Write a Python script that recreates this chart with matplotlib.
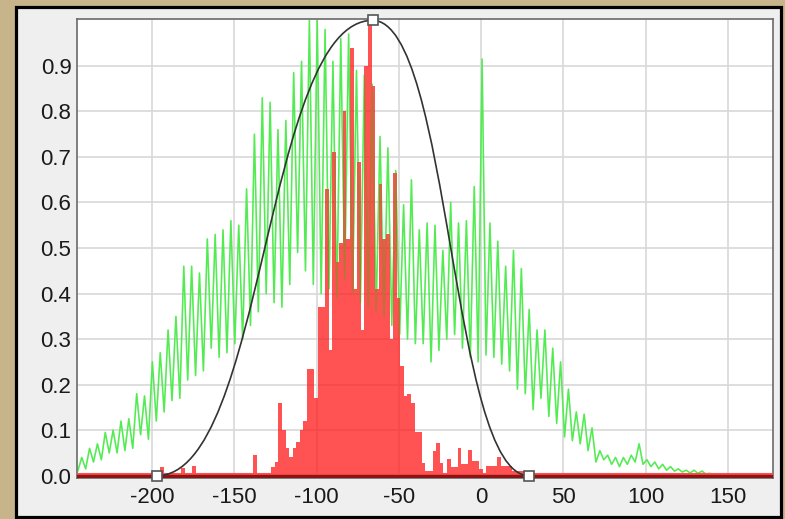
import numpy as np
import matplotlib.pyplot as plt
from matplotlib.patches import Rectangle, PathPatch
from matplotlib.path import Path

plt.rcParams['font.family'] = ['Liberation Sans', 'DejaVu Sans']
plt.rcParams['axes.unicode_minus'] = False

# green trace: alternating peak / trough values, sampled every half period
green_start = -247.5
green_step = 4.77
green_peaks = [0.02, 0.04, 0.06, 0.07, 0.095, 0.10, 0.12, 0.125, 0.18, 0.175,
               0.25, 0.27, 0.32, 0.35, 0.46, 0.46, 0.445, 0.52, 0.53, 0.54,
               0.56, 0.55, 0.63, 0.75, 0.83, 0.82, 0.76, 0.78, 0.885, 0.91,
               1.0, 1.0, 0.98, 0.91, 0.96, 0.97, 0.89, 0.88, 0.86, 0.745,
               0.72, 0.67, 0.595, 0.65, 0.54, 0.555, 0.55, 0.495, 0.60, 0.555,
               0.56, 0.635, 0.915, 0.555, 0.515, 0.46, 0.495, 0.455, 0.365, 0.32,
               0.32, 0.28, 0.25, 0.19, 0.14, 0.135, 0.105, 0.055, 0.045, 0.04,
               0.04, 0.045, 0.07, 0.035, 0.03, 0.025, 0.02, 0.015, 0.012, 0.012,
               0.01, 0.005, 0.003, 0.003, 0.003, 0.003, 0.003, 0.003, 0.003, 0.003]
green_troughs = [0.01, 0.015, 0.03, 0.035, 0.05, 0.05, 0.055, 0.06, 0.09, 0.08,
                 0.12, 0.14, 0.165, 0.17, 0.21, 0.22, 0.23, 0.28, 0.26, 0.27,
                 0.29, 0.30, 0.33, 0.36, 0.40, 0.38, 0.37, 0.42, 0.49, 0.45,
                 0.42, 0.40, 0.41, 0.39, 0.43, 0.40, 0.38, 0.37, 0.36, 0.35,
                 0.33, 0.31, 0.30, 0.29, 0.29, 0.25, 0.275, 0.30, 0.31, 0.28,
                 0.26, 0.25, 0.265, 0.26, 0.245, 0.23, 0.19, 0.18, 0.145, 0.17,
                 0.13, 0.115, 0.085, 0.077, 0.07, 0.055, 0.03, 0.035, 0.025, 0.02,
                 0.025, 0.03, 0.025, 0.02, 0.015, 0.012, 0.01, 0.008, 0.006, 0.005,
                 0.004, 0.003, 0.002, 0.002, 0.002, 0.002, 0.002, 0.002, 0.002, 0.002]

# red histogram
bin_start = -196.3
bin_width = 2.18
red_heights = [0, 0.02, 0, 0, 0, 0, 0, 0.017, 0, 0,
               0.022, 0, 0, 0, 0, 0, 0, 0, 0, 0,
               0, 0, 0, 0, 0, 0,
               0, 0.045, 0, 0, 0, 0, 0.02, 0.03, 0.16, 0.10,
               0.06, 0.04, 0.06, 0.075, 0.10, 0.12, 0.235, 0.235, 0.17, 0.37,
               0.37, 0.63, 0.275, 0.71, 0.47, 0.51, 0.80, 0.52, 0.94, 0.41,
               0.69, 0.32, 0.90, 1.0, 0.855, 0.41, 0.64, 0.52, 0.53, 0.30,
               0.665, 0.39, 0.24, 0.175, 0.18, 0.16, 0.095, 0.095, 0.027, 0.01,
               0.01, 0.055, 0.072, 0.027, 0.0, 0.037, 0.02, 0.02, 0.06, 0.025,
               0.025, 0.057, 0.033, 0.033, 0.015, 0.0, 0.022, 0.022, 0.022, 0.04,
               0.022, 0.022, 0.022, 0.01, 0.01, 0.01, 0.01, 0.005]

# curve handles (x, y)
handle_x = [-197, -66, 29]
handle_y = [0.0, 1.0, 0.0]

x_ticks = [-200, -150, -100, -50, 0, 50, 100, 150]
y_ticks = [0.0, 0.1, 0.2, 0.3, 0.4, 0.5, 0.6, 0.7, 0.8, 0.9]

fig = plt.figure(figsize=(7.85, 5.19), dpi=100, facecolor='#c8b48b')
W, H = 785, 519
frame = fig.add_axes([0, 0, 1, 1], zorder=-10)
frame.set_xlim(0, W)
frame.set_ylim(H, 0)
frame.axis('off')
frame.add_patch(Rectangle((15.5, 6.5), 765, 510, facecolor='#efefef',
                          edgecolor='black', linewidth=2.3))

ax = fig.add_axes([77 / W, 1 - 477.5 / H, 696 / W, 458.5 / H])
ax.set_facecolor('white')

gx = green_start + green_step / 2 * np.arange(2 * len(green_peaks))
gy = np.column_stack((green_peaks, green_troughs)).ravel()
ax.plot(gx, gy, color='#52ec52', lw=1.1, zorder=2, solid_joinstyle='round')

bx = bin_start + bin_width * np.arange(len(red_heights))
ax.bar(bx, red_heights, width=bin_width, color='#ff2222', alpha=0.78,
       linewidth=0, zorder=3)
ax.plot(gx, gy, color='#52ec52', lw=1.1, alpha=0.25, zorder=4)

# baseline of the red series
ax.axhline(0.003, color='#ff5050', lw=1.5, zorder=4)
ax.axhline(-0.001, color='#8e1414', lw=2.4, zorder=5)

# curve through handles (cubic bezier pieces)
k = 0.5
verts = [(handle_x[0], handle_y[0])]
codes = [Path.MOVETO]
for i in range(len(handle_x) - 1):
    d = (handle_x[i + 1] - handle_x[i]) * k
    verts += [(handle_x[i] + d, handle_y[i]), (handle_x[i + 1] - d, handle_y[i + 1]),
              (handle_x[i + 1], handle_y[i + 1])]
    codes += [Path.CURVE4] * 3
ax.add_patch(PathPatch(Path(verts, codes), facecolor='none', edgecolor='#333333',
                       lw=1.2, zorder=6))
ax.plot(handle_x, handle_y, linestyle='none', marker='s', markersize=7,
        markerfacecolor='white', markeredgecolor='#555555', markeredgewidth=1.2,
        zorder=7, clip_on=False)

ax.set_xlim(-245.6, 177.3)
ax.set_ylim(-0.004, 1.003)
ax.set_xticks(x_ticks)
ax.set_xticklabels([str(t) for t in x_ticks])
ax.set_yticks(y_ticks)
ax.set_yticklabels(['%.1f' % t for t in y_ticks])
ax.grid(True, color='#d8d8d8', lw=1.2, zorder=1)
ax.set_axisbelow(True)
ax.tick_params(length=0, labelsize=16, colors='#1a1a1a')
ax.tick_params(axis='x', pad=7)
ax.tick_params(axis='y', pad=4)
for s in ax.spines.values():
    s.set_color('#6a6a6a')
    s.set_linewidth(1.2)

fig.savefig('out.png', dpi=100, facecolor=fig.get_facecolor())
